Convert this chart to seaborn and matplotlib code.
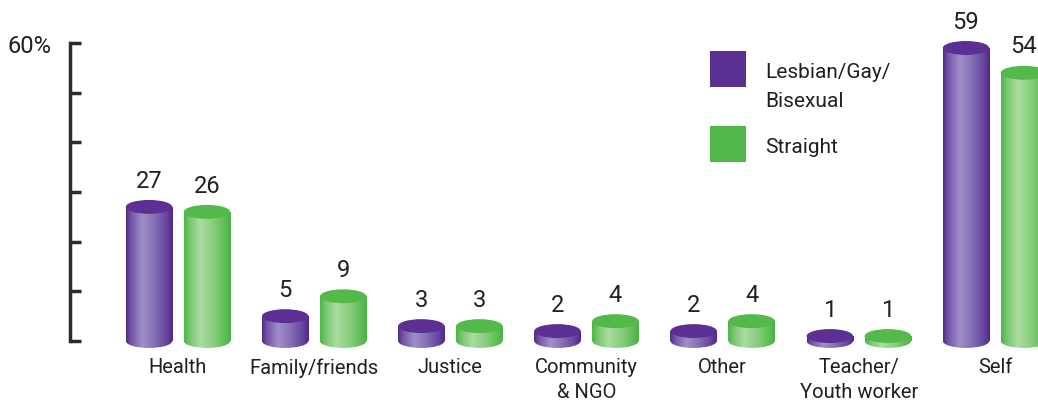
import numpy as np
import pandas as pd
import matplotlib
matplotlib.use("Agg")
import matplotlib.pyplot as plt
import seaborn as sns
from matplotlib.patches import Ellipse, Rectangle
from matplotlib.colors import LinearSegmentedColormap

categories = ["Health", "Family/friends", "Justice", "Community\n& NGO", "Other",
              "Teacher/\nYouth worker", "Self"]
lgb_values = [27, 5, 3, 2, 2, 1, 59]
straight_values = [26, 9, 3, 4, 4, 1, 54]
groups = ["Lesbian/Gay/Bisexual", "Straight"]
y_ticks = [0, 10, 20, 30, 40, 50, 60]
y_tick_labels = ["", "", "", "", "", "", "60%"]

purple = "#5a3092"
green = "#4fb848"

df = pd.DataFrame({
    "category": categories * 2,
    "group": [groups[0]] * len(categories) + [groups[1]] * len(categories),
    "value": lgb_values + straight_values,
})

sns.set_theme(style="white")
plt.rcParams["font.family"] = ["Roboto", "DejaVu Sans"]
TXT = "#231f20"

W, H = 1038, 406
fig = plt.figure(figsize=(W / 100, H / 100), dpi=100)
ax = fig.add_axes([70 / W, (H - 356.9) / H, (W - 70) / W, (356.9 - 29.1) / H])

sns.barplot(data=df, x="category", y="value", hue="group", order=categories,
            hue_order=groups, palette=[purple, green], width=0.852, gap=0.2,
            legend=False, ax=ax, saturation=1)

cmaps = {
    purple: LinearSegmentedColormap.from_list("p", [(0, "#55298c"), (0.12, "#7658aa"),
        (0.35, "#9f8fc8"), (0.6, "#8670b6"), (0.85, "#6848a0"), (1, "#52268a")]),
    green: LinearSegmentedColormap.from_list("g", [(0, "#4cb545"), (0.12, "#78c66e"),
        (0.35, "#abdba1"), (0.6, "#8dd083"), (0.85, "#64be5a"), (1, "#49b342")]),
}
tops = {purple: "#5b2f93", green: "#52b94a"}

grad = np.linspace(0, 1, 256).reshape(1, -1)
e = 2.8
bars = list(ax.patches)
for p in bars:
    x0, w, h = p.get_x(), p.get_width(), p.get_height()
    fc = matplotlib.colors.to_hex(p.get_facecolor())
    key = purple if fc == matplotlib.colors.to_hex(purple) else green
    p.set_edgecolor("none")
    cm = cmaps[key]
    im = ax.imshow(grad, cmap=cm, extent=[x0, x0 + w, 0, h], aspect="auto", zorder=2)
    im.set_clip_path(p)
    bot = Ellipse((x0 + w / 2, 0), w, e, facecolor="none", edgecolor="none")
    ax.add_patch(bot)
    im2 = ax.imshow(grad, cmap=cm, extent=[x0, x0 + w, -e, e], aspect="auto", zorder=2)
    im2.set_clip_path(bot)
    ax.add_patch(Ellipse((x0 + w / 2, h), w, e, facecolor=tops[key],
                         edgecolor="none", zorder=3))
    ax.text(x0 + w / 2, h + 5.4, f"{int(round(h))}", ha="center", va="center",
            fontsize=17, color=TXT, zorder=4)

ax.set_xlim(-0.793, 6.316)
ax.set_ylim(-3, 63)
for s in ["top", "right", "bottom"]:
    ax.spines[s].set_visible(False)
ax.spines["left"].set_bounds(0, 60)
ax.spines["left"].set_linewidth(2.5)
ax.spines["left"].set_color("#2b2b2b")
ax.set_yticks(y_ticks)
ax.set_yticklabels(y_tick_labels)
ax.tick_params(axis="y", direction="in", length=8, width=2.5, color="#2b2b2b",
               labelsize=17, pad=13, labelcolor=TXT, left=True)
ax.tick_params(axis="x", length=0, labelsize=14.5, pad=1, labelcolor=TXT)
for t in ax.get_xticklabels():
    t.set_linespacing(1.35)
ax.set_xlabel("")
ax.set_ylabel("")
ax.grid(False)

# legend
def fx(x):
    return x / W

def fy(y):
    return 1 - y / H

fig.add_artist(Rectangle((fx(710), fy(88)), 36 / W, 36 / H, facecolor=purple,
                         edgecolor="none", transform=fig.transFigure))
fig.add_artist(Rectangle((fx(710), fy(163)), 36 / W, 36 / H, facecolor=green,
                         edgecolor="none", transform=fig.transFigure))
fig.text(fx(765), fy(78), "Lesbian/Gay/", fontsize=15, va="baseline", color=TXT)
fig.text(fx(765), fy(107), "Bisexual", fontsize=15, va="baseline", color=TXT)
fig.text(fx(765), fy(153), "Straight", fontsize=15, va="baseline", color=TXT)

fig.savefig("out.png", dpi=100)
